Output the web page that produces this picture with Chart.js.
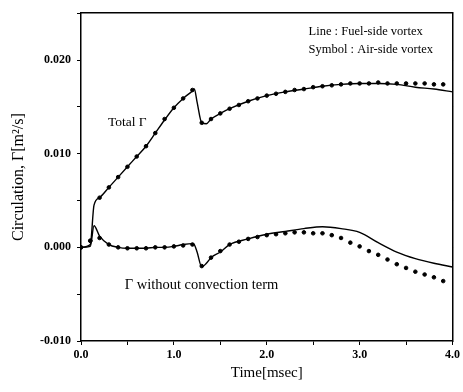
<!DOCTYPE html>
<html>
<head>
  <title>Circulation vs Time</title>
  <script src="https://cdn.jsdelivr.net/npm/chart.js"></script>
  <style>
    body { margin: 0; background: #fff; }
    #wrap { width: 463px; height: 392px; }
  </style>
</head>
<body>
  <div id="wrap"><canvas id="chart" width="463" height="392"></canvas></div>
  <script>
    // fuel-side vortex (solid lines)
    const lineTime = [0, 0.1, 0.14, 0.2, 0.3, 0.4, 0.5, 0.6, 0.7, 0.8, 0.9, 1.0, 1.1, 1.2, 1.22, 1.25, 1.3, 1.35, 1.4, 1.5, 1.6, 1.8, 2.0, 2.2, 2.4, 2.6, 2.8, 3.0, 3.2, 3.4, 3.6, 3.8, 4.0];
    const lineTotal = [0, 0.0003, 0.0045, 0.0053, 0.0064, 0.0075, 0.0086, 0.0097, 0.0108, 0.0122, 0.0136, 0.0149, 0.0159, 0.0167, 0.0169, 0.0155, 0.0133, 0.0132, 0.0137, 0.0143, 0.0148, 0.0156, 0.0162, 0.0166, 0.0169, 0.0172, 0.0174, 0.0175, 0.0175, 0.0174, 0.0171, 0.0169, 0.0166];
    const lineNoConv = [0, 0.0001, 0.0023, 0.0012, 0.0003, 0.0000, -0.0001, -0.0001, -0.0001, 0.0000, 0.0000, 0.0001, 0.0003, 0.0004, 0.0003, -0.0005, -0.0021, -0.0017, -0.0011, -0.0005, 0.0003, 0.0009, 0.0014, 0.0017, 0.0020, 0.0022, 0.0020, 0.0016, 0.0005, -0.0005, -0.0012, -0.0017, -0.0021];

    // air-side vortex (symbols)
    const symTime = [0, 0.1, 0.2, 0.3, 0.4, 0.5, 0.6, 0.7, 0.8, 0.9, 1.0, 1.1, 1.2, 1.3, 1.4, 1.5, 1.6, 1.7, 1.8, 1.9, 2.0, 2.1, 2.2, 2.3, 2.4, 2.5, 2.6, 2.7, 2.8, 2.9, 3.0, 3.1, 3.2, 3.3, 3.4, 3.5, 3.6, 3.7, 3.8, 3.9];
    const symTotal = [0, 0.0007, 0.0053, 0.0064, 0.0075, 0.0086, 0.0097, 0.0108, 0.0122, 0.0137, 0.0149, 0.0159, 0.0168, 0.0133, 0.0137, 0.0143, 0.0148, 0.0152, 0.0156, 0.0159, 0.0162, 0.0164, 0.0166, 0.0168, 0.0169, 0.0171, 0.0172, 0.0173, 0.0174, 0.0175, 0.0175, 0.0175, 0.0176, 0.0175, 0.0175, 0.0175, 0.0175, 0.0175, 0.0174, 0.0174];
    const symNoConv = [0, 0.0007, 0.0010, 0.0003, 0.0000, -0.0001, -0.0001, -0.0001, 0.0000, 0.0000, 0.0001, 0.0002, 0.0003, -0.0020, -0.0011, -0.0004, 0.0003, 0.0006, 0.0009, 0.0011, 0.0013, 0.0014, 0.0015, 0.0016, 0.0016, 0.0015, 0.0015, 0.0013, 0.0010, 0.0005, 0.0001, -0.0004, -0.0008, -0.0013, -0.0018, -0.0022, -0.0026, -0.0029, -0.0032, -0.0036];

    const yLabels = [-0.010, 0.000, 0.010, 0.020];
    const xLabels = [0, 1, 2, 3, 4];

    const toPts = (xs, ys) => xs.map((x, i) => ({ x: x, y: ys[i] }));
    const serif = '"Liberation Serif", "DejaVu Serif", serif';

    const notes = {
      id: 'notes',
      afterDraw(chart) {
        const ctx = chart.ctx;
        const xs = chart.scales.x, ys = chart.scales.y;
        ctx.save();
        ctx.fillStyle = '#000';
        ctx.textBaseline = 'middle';
        ctx.textAlign = 'left';
        ctx.font = '13.5px ' + serif;
        ctx.fillText('Total \u0393', xs.getPixelForValue(0.29), ys.getPixelForValue(0.0133));
        ctx.font = '14.5px ' + serif;
        ctx.fillText('\u0393 without convection term', xs.getPixelForValue(0.47), ys.getPixelForValue(-0.0040));
        ctx.font = '12.5px ' + serif;
        ctx.fillText('Line : Fuel-side vortex', xs.getPixelForValue(2.45), ys.getPixelForValue(0.0230));
        ctx.fillText('Symbol : Air-side vortex', xs.getPixelForValue(2.45), ys.getPixelForValue(0.0211));
        ctx.restore();
      }
    };

    new Chart(document.getElementById('chart'), {
      type: 'scatter',
      data: {
        datasets: [
          { data: toPts(lineTime, lineTotal), showLine: true, borderColor: '#000', borderWidth: 1.4, pointRadius: 0, cubicInterpolationMode: 'monotone' },
          { data: toPts(lineTime, lineNoConv), showLine: true, borderColor: '#000', borderWidth: 1.4, pointRadius: 0, cubicInterpolationMode: 'monotone' },
          { data: toPts(symTime, symTotal), showLine: false, backgroundColor: '#000', borderColor: '#000', pointRadius: 1.8 },
          { data: toPts(symTime, symNoConv), showLine: false, backgroundColor: '#000', borderColor: '#000', pointRadius: 1.8 }
        ]
      },
      options: {
        responsive: false,
        animation: false,
        layout: { padding: { top: 10, right: 8, left: 0, bottom: 0 } },
        plugins: { legend: { display: false }, tooltip: { enabled: false } },
        scales: {
          x: {
            type: 'linear', min: 0, max: 4,
            afterFit: s => { s.height = 51; },
            grid: { drawOnChartArea: false, tickLength: 4, color: '#000' },
            border: { color: '#000', width: 1.5 },
            ticks: {
              stepSize: 0.5, color: '#000', padding: 3,
              font: { family: serif, size: 12, weight: 'bold' },
              callback: v => xLabels.includes(v) ? v.toFixed(1) : ''
            },
            title: { display: true, text: 'Time[msec]', color: '#000', font: { family: serif, size: 15 }, padding: { top: 0, bottom: 10 } }
          },
          y: {
            min: -0.010, max: 0.025,
            afterFit: s => { s.width = 81; },
            grid: { drawOnChartArea: false, tickLength: 4, color: '#000' },
            border: { color: '#000', width: 1.5 },
            ticks: {
              stepSize: 0.005, color: '#000', padding: 6,
              font: { family: serif, size: 12, weight: 'bold' },
              callback: v => {
                const m = yLabels.find(t => Math.abs(t - v) < 1e-9);
                return m === undefined ? '' : m.toFixed(3);
              }
            },
            title: { display: true, text: 'Circulation, \u0393[m\u00b2/s]', color: '#000', font: { family: serif, size: 16 }, padding: { top: 9, bottom: 0 } }
          },
          x2: {
            type: 'linear', position: 'top', min: 0, max: 4,
            grid: { drawOnChartArea: false, tickLength: 0 }, ticks: { display: false },
            border: { color: '#000', width: 1.5 }
          },
          y2: {
            position: 'right', min: -0.010, max: 0.025,
            grid: { drawOnChartArea: false, tickLength: 0 }, ticks: { display: false },
            border: { color: '#000', width: 1.5 }
          }
        }
      },
      plugins: [notes]
    });
  </script>
</body>
</html>
